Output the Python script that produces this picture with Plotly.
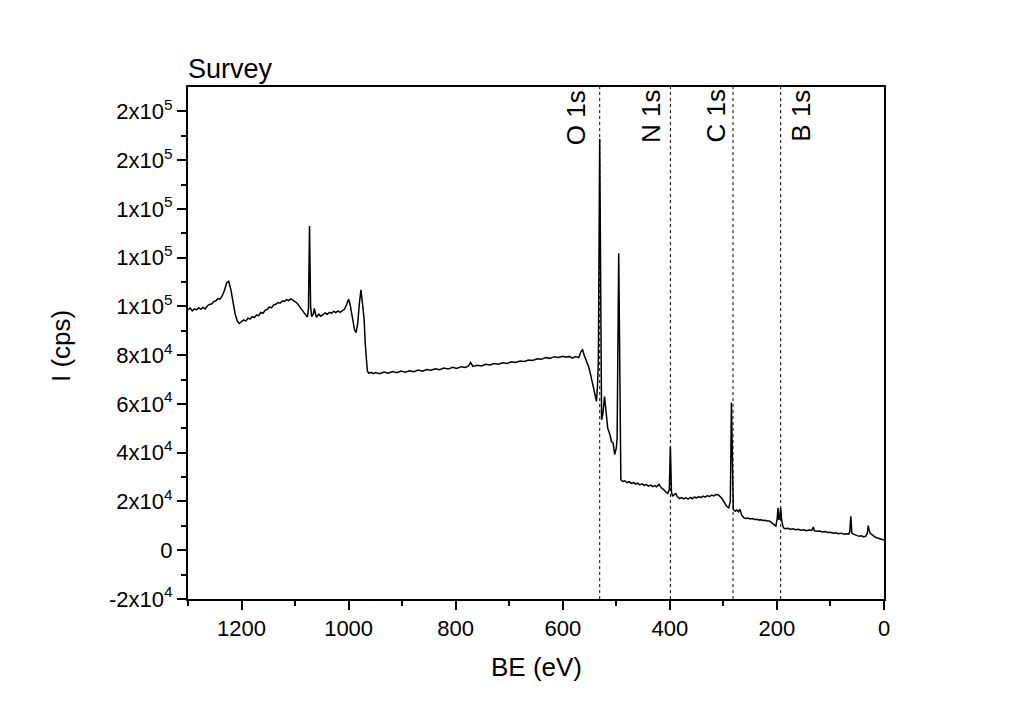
import plotly.graph_objects as go

# Binding energy (eV)
be = [1300, 1296, 1292, 1288, 1284, 1280, 1276, 1272, 1268, 1264, 1260, 1256, 1252, 1248, 1244, 1240,
      1236, 1232, 1228, 1224, 1220, 1216, 1212, 1208, 1204, 1200, 1196, 1192, 1188, 1184, 1180, 1176,
      1172, 1168, 1164, 1160, 1156, 1152, 1148, 1144, 1140, 1136, 1132, 1128, 1124, 1120, 1116, 1112,
      1108, 1104, 1100, 1096, 1092, 1088, 1084, 1080, 1077, 1075, 1073, 1071, 1069, 1066, 1064, 1062,
      1060, 1056, 1052, 1048, 1044, 1040, 1036, 1032, 1028, 1024, 1020, 1016, 1012, 1008, 1004, 1000,
      997, 993, 989, 986, 983, 980, 977, 974, 971, 969, 967, 965, 962, 958, 954, 950,
      942, 934, 926, 918, 910, 902, 894, 886, 878, 870, 862, 854, 846, 838, 830, 822,
      814, 806, 798, 790, 782, 776, 772, 768, 760, 752, 744, 736, 728, 720, 712, 704,
      696, 688, 680, 672, 664, 656, 648, 640, 632, 624, 616, 608, 600, 594, 588, 582,
      576, 570, 566, 563, 560, 556, 552, 548, 544, 540, 537, 535, 533.5, 531, 529, 527.5,
      525, 522, 519, 516, 512, 509, 506, 503, 500, 498.5, 495.5, 493, 491.5, 488, 484, 480,
      476, 472, 468, 464, 460, 456, 452, 448, 444, 440, 436, 432, 428, 425, 420, 416,
      412, 408, 404, 401, 399, 397, 395, 392, 389, 386, 382, 378, 374, 370, 366, 362,
      358, 354, 350, 346, 342, 338, 334, 330, 326, 322, 318, 314, 310, 306, 302, 298,
      294, 290, 287, 285, 283, 281.5, 278, 275, 272, 269, 266, 262, 258, 254, 250, 246,
      242, 238, 234, 230, 226, 222, 218, 214, 210, 206, 202, 199.5, 198, 196.5, 195, 193,
      191, 188, 185, 180, 175, 170, 165, 160, 155, 150, 145, 140, 135, 132, 130, 125,
      120, 115, 110, 105, 100, 95, 90, 85, 80, 75, 70, 66, 64, 62, 60, 57,
      54, 50, 46, 42, 38, 34, 31, 29.5, 28, 26, 23, 20, 16, 12, 8, 4, 0]

# Intensity (cps)
intensity = [98500, 99400, 98200, 99000, 98600, 99500, 98800, 99600, 99000, 100200, 100800, 101000, 102000, 102300, 103200, 103000,
             104400, 106500, 109600, 110300, 107000, 101500, 97000, 94000, 93000, 93800, 94500, 94000, 95200, 94800, 95800, 95400,
             96500, 96200, 97500, 97200, 98400, 98800, 99800, 99400, 100600, 100900, 101600, 101300, 102200, 102000, 102800, 102400,
             103100, 102600, 102000, 101300, 100000, 98800, 97800, 96800, 95600, 99000, 133000, 100000, 95800, 96800, 99200, 97000,
             95500, 96800, 96000, 96600, 97300, 96800, 97600, 97200, 98000, 97500, 98200, 97600, 98400, 98800, 100600, 103000,
             100500, 95500, 90500, 89300, 93000, 101000, 106800, 101000, 94500, 85000, 76500, 73400, 72600, 73000, 72400, 72900,
             72400, 73100, 72600, 73300, 72800, 73500, 73000, 73600, 73200, 73900, 73400, 74100, 73800, 74400, 74000, 74700,
             74300, 75000, 74600, 75300, 75000, 75600, 77000, 75400, 75900, 75600, 76300, 76000, 76600, 76300, 76900, 76600,
             77300, 77000, 77600, 77400, 78000, 77800, 78500, 78300, 79000, 78700, 79400, 79100, 79600, 79200, 79500, 78800,
             79400, 79000, 81500, 82200, 80000, 78100, 75500, 72000, 67500, 63000, 61000, 68000, 78000, 168800, 80000, 53500,
             56000, 63000, 56500, 50000, 47500, 44600, 44000, 39200, 42000, 46000, 121800, 45000, 28900, 28200, 28500, 27700,
             28100, 27400, 27800, 27100, 27500, 26800, 27200, 26600, 26900, 26300, 26700, 26100, 26500, 26000, 27000, 25600,
             25000, 24000, 23300, 25000, 42600, 24000, 22100, 22800, 23200, 22000, 21200, 21600, 21100, 21500, 21000, 21600,
             21200, 21800, 21500, 22000, 21600, 22200, 21800, 22400, 22000, 22600, 22300, 22900, 22800, 22000, 21000, 19500,
             18000, 17400, 20000, 60600, 30000, 16700, 16000, 16500, 15800, 16700, 14500, 13400, 13000, 13200, 12800, 13000,
             12600, 12700, 12400, 12500, 12200, 12300, 12000, 12000, 11300, 10500, 9900, 13000, 17400, 12500, 13000, 17400,
             12000, 9300, 8800, 9000, 8600, 8800, 8400, 8600, 8200, 8400, 8000, 8300, 8100, 9500, 8000, 7800,
             7900, 7500, 7700, 7300, 7400, 7000, 7200, 6800, 7000, 6600, 6800, 6600, 7500, 13900, 7000, 6600,
             6200, 6000, 5700, 5900, 5500, 5800, 7000, 10100, 8500, 7000, 6500, 5800, 5300, 5000, 4800, 4500, 4200]

# Core-level markers
peak_names = ["O 1s", "N 1s", "C 1s", "B 1s"]
peak_be = [531, 399, 282, 193]
label_shift = [-24, -20, -18, 20]

# Axis ticks
x_ticks = [1200, 1000, 800, 600, 400, 200, 0]
x_minor = [1300, 1100, 900, 700, 500, 300, 100]
y_ticks = [-20000, 0, 20000, 40000, 60000, 80000, 100000, 120000, 140000, 160000, 180000]
y_ticktext = ["-2x10<sup>4</sup>", "0", "2x10<sup>4</sup>", "4x10<sup>4</sup>", "6x10<sup>4</sup>",
              "8x10<sup>4</sup>", "1x10<sup>5</sup>", "1x10<sup>5</sup>", "1x10<sup>5</sup>",
              "2x10<sup>5</sup>", "2x10<sup>5</sup>"]
y_minor = [-10000, 10000, 30000, 50000, 70000, 90000, 110000, 130000, 150000, 170000]

FONT = "Liberation Sans, Arial, sans-serif"

fig = go.Figure()
fig.add_trace(go.Scatter(x=be, y=intensity, mode="lines",
                         line=dict(color="black", width=1.5), showlegend=False))

shapes = []
annotations = []
for name, pos, sh in zip(peak_names, peak_be, label_shift):
    shapes.append(dict(type="line", xref="x", yref="paper", x0=pos, x1=pos, y0=0, y1=1,
                       line=dict(color="black", width=1, dash="3px,3px")))
    annotations.append(dict(text=name, x=pos, xref="x", y=1, yref="paper",
                            xanchor="center", yanchor="top", xshift=sh, yshift=-1,
                            textangle=-90, showarrow=False,
                            font=dict(family=FONT, size=26, color="black")))

annotations.append(dict(text="Survey", x=0, xref="paper", y=1, yref="paper",
                        xanchor="left", yanchor="bottom", yshift=1, xshift=-2, showarrow=False,
                        font=dict(family=FONT, size=27, color="black")))
annotations.append(dict(text="BE (eV)", x=0.5, xref="paper", y=0, yref="paper",
                        xanchor="center", yanchor="middle", yshift=-68, showarrow=False,
                        font=dict(family=FONT, size=26, color="black")))
annotations.append(dict(text="I (cps)", x=0, xref="paper", y=0.5, yref="paper",
                        xanchor="center", yanchor="middle", xshift=-127, yshift=-3,
                        textangle=-90, showarrow=False,
                        font=dict(family=FONT, size=26, color="black")))

fig.update_layout(
    width=1003, height=700,
    margin=dict(l=180, r=127, t=79, b=109),
    paper_bgcolor="white", plot_bgcolor="white",
    font=dict(family=FONT, size=22, color="black"),
    shapes=shapes, annotations=annotations,
    xaxis=dict(range=[1300, 0], tickmode="array", tickvals=x_ticks,
               ticks="outside", ticklen=9, tickwidth=2, tickcolor="black",
               showline=True, linewidth=2, linecolor="black", mirror=True,
               showgrid=False, zeroline=False,
               tickfont=dict(family=FONT, size=22, color="black"),
               minor=dict(tickmode="array", tickvals=x_minor, ticks="outside",
                          ticklen=5, tickwidth=2, tickcolor="black", showgrid=False)),
    yaxis=dict(range=[-20000, 190000], tickmode="array", tickvals=y_ticks, ticktext=y_ticktext,
               ticks="outside", ticklen=9, tickwidth=2, tickcolor="black",
               showline=True, linewidth=2, linecolor="black", mirror=True,
               showgrid=False, zeroline=False,
               tickfont=dict(family=FONT, size=22, color="black"),
               minor=dict(tickmode="array", tickvals=y_minor, ticks="outside",
                          ticklen=5, tickwidth=2, tickcolor="black", showgrid=False)),
)

fig.write_html("out.html")
